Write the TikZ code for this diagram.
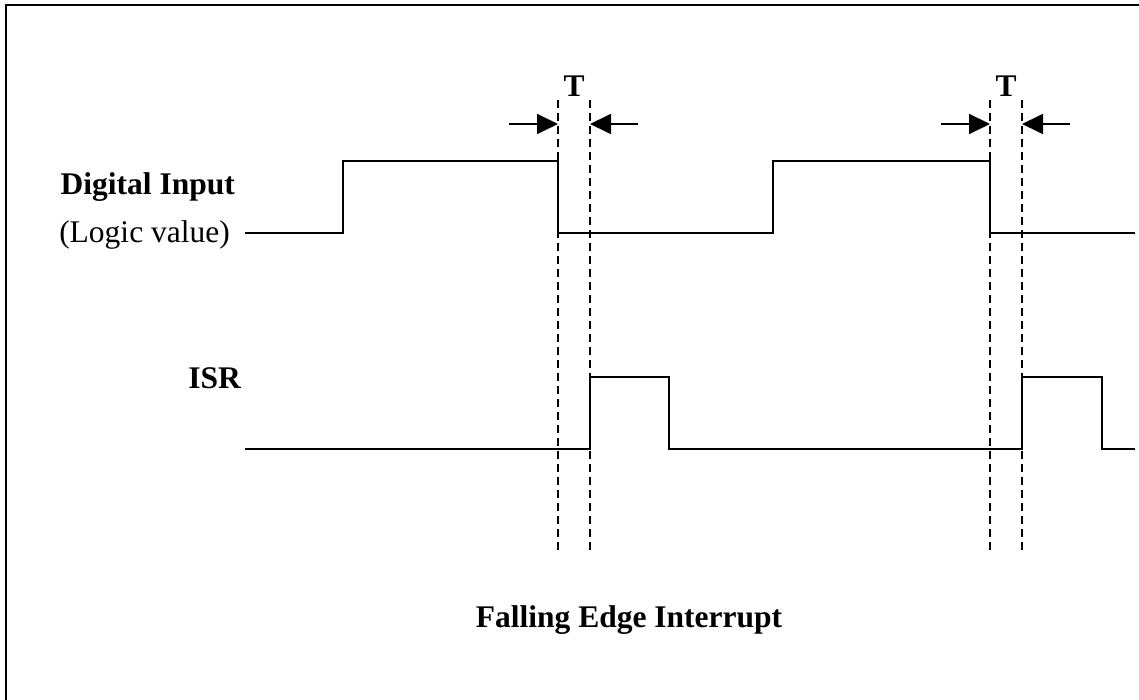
\documentclass[tikz,border=0pt]{standalone}
\usepackage{fontspec}
\setmainfont{Liberation Serif}
\usetikzlibrary{arrows.meta}
\begin{document}
\begin{tikzpicture}[x=1pt,y=-1pt,
  sig/.style={line width=1.8pt},
  guide/.style={line width=1.3pt,dash pattern=on 8pt off 5pt},
  marker/.style={line width=1.8pt,-{Triangle[length=21pt,width=20pt]}},
  lbl/.style={inner sep=0pt,font=\fontsize{31.5}{36}\selectfont},
  blbl/.style={inner sep=0pt,font=\fontsize{31.5}{36}\selectfont\bfseries}]
\useasboundingbox (0,0) rectangle (1139,700);
\draw[line width=2pt] (6,720) -- (6,5) -- (1160,5);
% digital input
\coordinate (d0) at (245,233);
\coordinate (d1) at (1135,233);
\draw[sig] (d0) -- (343,233) -- (343,161) -- (558,161) -- (558,233) -- (773,233) -- (773,161) -- (990,161) -- (990,233) -- (d1);
% ISR
\coordinate (i0) at (245,449);
\coordinate (i1) at (1135,449);
\draw[sig] (i0) -- (590,449) -- (590,377) -- (669,377) -- (669,449) -- (1022,449) -- (1022,377) -- (1102,377) -- (1102,449) -- (i1);
% dashed guides
\foreach \n/\x in {ga/558,gb/590,gc/990,gd/1022}{
  \coordinate (\n t) at (\x,100);
  \coordinate (\n b) at (\x,553);
  \draw[guide] (\n t) -- (\n b);
}
% arrows
\coordinate (a1s) at (509,124); \coordinate (a1e) at (558,124);
\coordinate (a2s) at (638,124); \coordinate (a2e) at (590,124);
\coordinate (a3s) at (941,124); \coordinate (a3e) at (990,124);
\coordinate (a4s) at (1070,124); \coordinate (a4e) at (1022,124);
\draw[marker] (a1s) -- (a1e);
\draw[marker] (a2s) -- (a2e);
\draw[marker] (a3s) -- (a3e);
\draw[marker] (a4s) -- (a4e);
\node[blbl,anchor=base] (t1) at (574,97) {T};
\node[blbl,anchor=base] (t2) at (1006,97) {T};
\node[blbl,anchor=base east] (di) at (235,195) {Digital Input};
\node[lbl,anchor=base east] (lv) at (230,243) {(Logic value)};
\node[blbl,anchor=base east] (isr) at (241,388) {ISR};
\node[blbl,anchor=base] (cap) at (629,627) {Falling Edge Interrupt};
\end{tikzpicture}
\end{document}
